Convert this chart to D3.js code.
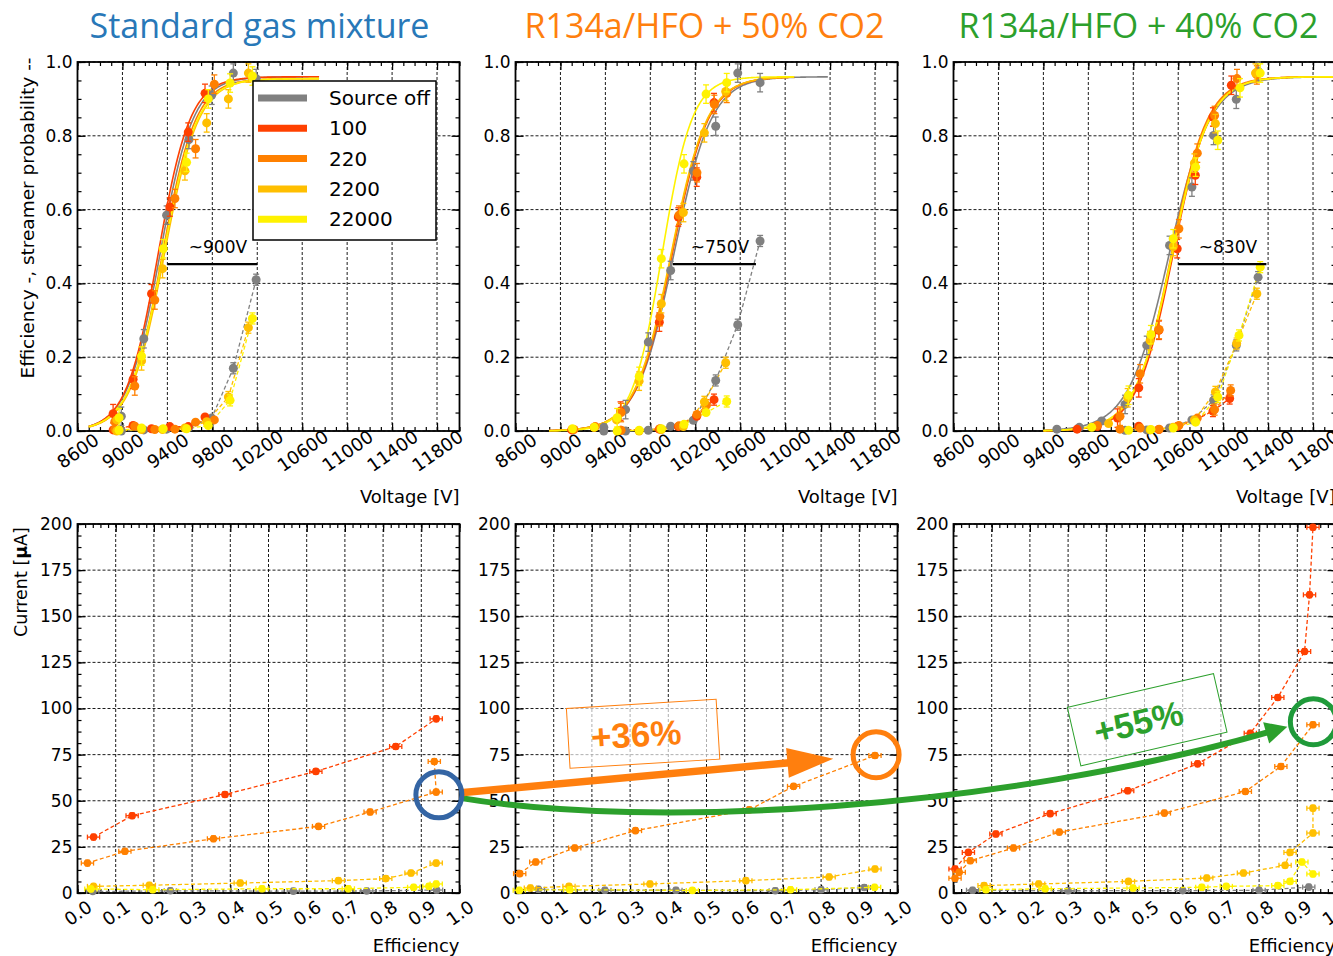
<!DOCTYPE html>
<html>
<head>
<meta charset="utf-8">
<script src="https://cdn.jsdelivr.net/npm/d3@7"></script>
<style>
  body { margin: 0; background: #fff; }
  svg text { font-family: "DejaVu Sans", sans-serif; }
</style>
</head>
<body>
<svg id="chart" width="1333" height="956"></svg>
<script>
// ---- data ----
const series = ['Source off', '100', '220', '2200', '22000']
const colors = ['#808080', '#ff4000', '#ff8000', '#ffbf00', '#fff200']
const titles = ['Standard gas mixture', 'R134a/HFO + 50% CO2', 'R134a/HFO + 40% CO2']
const titleColors = ['#2878b8', '#ff7f0e', '#2ca02c']

const voltTicks = [8600, 9000, 9400, 9800, 10200, 10600, 11000, 11400, 11800]
const effTicks = [0, 0.2, 0.4, 0.6, 0.8, 1.0]
const currTicks = [0, 25, 50, 75, 100, 125, 150, 175, 200]
const effXTicks = [0, 0.1, 0.2, 0.3, 0.4, 0.5, 0.6, 0.7, 0.8, 0.9, 1.0]

// efficiency vs voltage  [V, eff]  (order: Source off, 100, 220, 2200, 22000)
const effStd = [
  [[8990, 0.04], [9190, 0.25], [9393, 0.585], [9592, 0.79], [9794, 0.91], [9987, 0.97], [10190, 0.955]],
  [[8917, 0.047], [9095, 0.14], [9259, 0.372], [9422, 0.607], [9586, 0.81], [9735, 0.915]],
  [[8932, 0.025], [9110, 0.122], [9288, 0.355], [9467, 0.63], [9651, 0.765], [9818, 0.94]],
  [[8950, 0.03], [9170, 0.19], [9357, 0.44], [9556, 0.705], [9750, 0.835], [9943, 0.90], [10121, 0.97]],
  [[8970, 0.036], [9170, 0.203], [9363, 0.494], [9571, 0.728], [9764, 0.90], [9958, 0.943], [10157, 0.962]]
]
const effCO2_50 = [
  [[9386, 0.01], [9580, 0.058], [9782, 0.241], [9981, 0.435], [10183, 0.705], [10382, 0.826], [10578, 0.97], [10777, 0.944]],
  [[9100, 0.003], [9300, 0.01], [9535, 0.054], [9880, 0.295], [10049, 0.58], [10213, 0.688], [10367, 0.89]],
  [[9120, 0.004], [9310, 0.012], [9540, 0.05], [9885, 0.31], [10055, 0.585], [10215, 0.70], [10370, 0.885], [10480, 0.915]],
  [[9500, 0.03], [9700, 0.135], [9898, 0.345], [10094, 0.592], [10281, 0.808], [10471, 0.92]],
  [[9107, 0.006], [9300, 0.01], [9505, 0.036], [9701, 0.148], [9898, 0.467], [10100, 0.724], [10296, 0.913], [10480, 0.944]]
]
const effCO2_40 = [
  [[9520, 0.005], [9720, 0.01], [9919, 0.027], [10127, 0.072], [10320, 0.232], [10523, 0.503], [10722, 0.661], [10915, 0.801], [11117, 0.899], [11311, 0.975]],
  [[9700, 0.005], [9880, 0.012], [10060, 0.035], [10249, 0.117], [10428, 0.273], [10591, 0.494], [10752, 0.693], [10909, 0.851], [11073, 0.937]],
  [[9880, 0.015], [10082, 0.04], [10261, 0.155], [10430, 0.275], [10606, 0.548], [10770, 0.753], [10924, 0.855], [11123, 0.955], [11300, 0.965]],
  [[9980, 0.02], [10150, 0.09], [10350, 0.245], [10556, 0.50], [10744, 0.726], [10931, 0.833], [11288, 0.97]],
  [[9830, 0.01], [10158, 0.097], [10357, 0.261], [10556, 0.521], [10755, 0.715], [10952, 0.788], [11150, 0.93], [11330, 0.97]]
]

// streamer probability vs voltage  [V, prob]
const strStd = [
  [[8990, 0.0], [9190, 0.003], [9393, 0.005], [9592, 0.01], [9794, 0.035], [9987, 0.17], [10190, 0.41]],
  [[8917, 0.003], [9095, 0.015], [9259, 0.006], [9422, 0.012], [9586, 0.012], [9735, 0.038]],
  [[8932, 0.005], [9110, 0.013], [9288, 0.004], [9467, 0.005], [9651, 0.024], [9818, 0.03]],
  [[8950, 0.0], [9170, 0.004], [9357, 0.004], [9556, 0.008], [9750, 0.025], [9943, 0.092], [10121, 0.28]],
  [[8970, 0.002], [9170, 0.008], [9363, 0.006], [9571, 0.006], [9764, 0.015], [9958, 0.083], [10157, 0.305]]
]
const strCO2_50 = [
  [[9386, 0.0], [9580, 0.0], [9782, 0.002], [9981, 0.013], [10183, 0.029], [10382, 0.137], [10578, 0.288], [10777, 0.515]],
  [[9535, 0.002], [9880, 0.005], [10049, 0.012], [10213, 0.04], [10367, 0.085]],
  [[9540, 0.002], [9885, 0.006], [10055, 0.014], [10215, 0.045], [10300, 0.07]],
  [[9700, 0.0], [9898, 0.004], [10094, 0.012], [10281, 0.079], [10471, 0.185]],
  [[9505, 0.0], [9701, 0.002], [9898, 0.006], [10100, 0.018], [10296, 0.05], [10480, 0.08]]
]
const strCO2_40 = [
  [[10127, 0.002], [10320, 0.003], [10523, 0.008], [10722, 0.03], [10915, 0.083], [11117, 0.232], [11311, 0.417]],
  [[10249, 0.013], [10428, 0.004], [10591, 0.012], [10752, 0.03], [10909, 0.054], [11058, 0.088]],
  [[10082, 0.005], [10261, 0.008], [10430, 0.005], [10606, 0.015], [10770, 0.035], [10924, 0.058], [11067, 0.11]],
  [[10350, 0.003], [10556, 0.01], [10744, 0.03], [10931, 0.106], [11120, 0.237], [11300, 0.372]],
  [[10158, 0.002], [10357, 0.004], [10556, 0.008], [10755, 0.024], [10952, 0.092], [11141, 0.259], [11330, 0.444]]
]

// sigmoid fit parameters  [plateau, HV50, slope, Vfrom, Vto]
const fitStd = [
  [0.96, 9335, 0.0068, 8700, 10750], [0.96, 9318, 0.0070, 8700, 10750], [0.955, 9355, 0.0068, 8700, 10750],
  [0.955, 9372, 0.0066, 8700, 10750], [0.955, 9362, 0.0066, 8700, 10750]
]
const fitCO2_50 = [
  [0.96, 10010, 0.0060, 8900, 11380], [0.96, 9995, 0.0062, 8900, 11080], [0.96, 9990, 0.0062, 8900, 11080],
  [0.96, 9985, 0.0062, 8900, 11080], [0.96, 9905, 0.0075, 8900, 11080]
]
const fitCO2_40 = [
  [0.96, 10520, 0.0055, 9400, 12000], [0.96, 10555, 0.0062, 9400, 12000], [0.96, 10540, 0.0062, 9400, 12000],
  [0.96, 10548, 0.0060, 9400, 12000], [0.96, 10545, 0.0060, 9400, 12000]
]

// voltage shift between efficiency and streamer curves
const shiftFrom = [9400, 10000, 10600]
const shiftTo = [10200, 10740, 11385]
const shiftLevel = 0.452
const shiftLabels = ['~900V', '~750V', '~830V']

// current vs efficiency  [eff, current µA]
const curStd = [
  [[0.04, 0.8], [0.243, 1.2], [0.565, 1.0], [0.757, 1.1], [0.94, 1.6]],
  [[0.042, 30.3], [0.143, 41.9], [0.386, 53.4], [0.624, 65.9], [0.833, 79.4], [0.939, 94.4]],
  [[0.026, 16.2], [0.124, 22.6], [0.356, 29.4], [0.631, 36.1], [0.766, 43.9], [0.939, 54.7], [0.934, 71.3]],
  [[0.042, 3.6], [0.188, 4.2], [0.426, 5.4], [0.683, 6.7], [0.807, 7.8], [0.873, 10.8], [0.939, 16.2]],
  [[0.035, 2.2], [0.197, 1.8], [0.483, 2.3], [0.709, 2.3], [0.88, 3.1], [0.92, 3.6], [0.939, 4.9]]
]
const curCO2_50 = [
  [[0.06, 2], [0.234, 1.5], [0.42, 1.5], [0.68, 1.2], [0.8, 1.8], [0.913, 3]],
  [],
  [[0.011, 10.5], [0.053, 16.8], [0.155, 24.4], [0.314, 33.8], [0.612, 45.1], [0.728, 57.8], [0.941, 74.5]],
  [[0.039, 2.7], [0.14, 3.6], [0.352, 4.9], [0.603, 6.7], [0.821, 8.7], [0.941, 13.0]],
  [[0.01, 1.5], [0.142, 1.8], [0.463, 1.4], [0.72, 1.8], [0.94, 3.1]]
]
const curCO2_40 = [
  [[0.05, 1.5], [0.3, 1.2], [0.6, 1.3], [0.8, 1.5], [0.93, 3.2]],
  [[0.004, 13], [0.039, 22], [0.111, 32], [0.253, 43], [0.456, 55.4], [0.639, 70], [0.777, 86.6], [0.849, 106], [0.919, 130.9], [0.932, 161.6], [0.941, 198.2]],
  [[0.004, 8], [0.015, 11.2], [0.044, 17.5], [0.157, 24.4], [0.277, 33], [0.552, 43.3], [0.764, 55], [0.857, 68.6], [0.941, 91.2]],
  [[0.08, 4], [0.223, 4.9], [0.458, 6.3], [0.663, 8.1], [0.759, 10.8], [0.868, 15], [0.881, 22], [0.941, 32.5], [0.941, 46]],
  [[0.085, 1.8], [0.24, 2.3], [0.47, 2.7], [0.65, 3.1], [0.714, 3.6], [0.849, 4], [0.881, 6.3], [0.912, 16.8], [0.941, 10.3]]
]

// highlighted working points in the current plots  [eff, current]
const wpStd = [0.946, 53.2]
const wpCO2_50 = [0.944, 74.9]
const wpCO2_40 = [0.942, 92.8]
const gainLabels = ['+36%', '+55%']
const gainBoxAt = [[0.334, 86.3], [0.507, 93.9]]

// ---- layout ----
const W = 382, H = 369
const panelX = [77.5, 515.5, 953.5]
const topY = 62, botY = 524
const font = '"DejaVu Sans", sans-serif'

const svg = d3.select('#chart')
const xV = d3.scaleLinear().domain([8600, 12000]).range([0, W])
const yE = d3.scaleLinear().domain([0, 1]).range([H, 0])
const xF = d3.scaleLinear().domain([0, 1]).range([0, W])
const yI = d3.scaleLinear().domain([0, 200]).range([H, 0])

const minorV = d3.range(8600, 12001, 100)
const minorE = d3.range(0, 1.0001, 0.05)
const minorF = d3.range(0, 1.0001, 0.02)
const minorI = d3.range(0, 200.01, 6.25)

function addAxes (g, x, y, xMajor, xMinor, yMajor, yMinor, xFmt, yFmt) {
  const grid = g.append('g').attr('stroke', '#000').attr('stroke-width', 0.9).attr('stroke-dasharray', '3,2')
  grid.selectAll('.gx').data(xMajor).enter().append('line')
    .attr('x1', d => x(d)).attr('x2', d => x(d)).attr('y1', 0).attr('y2', H)
  grid.selectAll('.gy').data(yMajor).enter().append('line')
    .attr('y1', d => y(d)).attr('y2', d => y(d)).attr('x1', 0).attr('x2', W)

  const ax = (axis, tr) => {
    const a = g.append('g').attr('transform', tr || null).call(axis)
    a.select('.domain').remove()
    a.selectAll('line').attr('stroke-width', 1.2)
    a.attr('font-size', 17).attr('font-family', font)
    return a
  }
  ax(d3.axisLeft(y).tickValues(yMinor).tickSize(-4).tickFormat(''))
  ax(d3.axisLeft(y).tickValues(yMajor).tickSize(-8).tickPadding(5).tickFormat(yFmt))
  ax(d3.axisRight(y).tickValues(yMinor).tickSize(-4).tickFormat(''), `translate(${W},0)`)
  ax(d3.axisRight(y).tickValues(yMajor).tickSize(-8).tickFormat(''), `translate(${W},0)`)
  ax(d3.axisTop(x).tickValues(xMinor).tickSize(-4).tickFormat(''))
  ax(d3.axisTop(x).tickValues(xMajor).tickSize(-8).tickFormat(''))
  ax(d3.axisBottom(x).tickValues(xMinor).tickSize(-4).tickFormat(''), `translate(0,${H})`)
  const b = ax(d3.axisBottom(x).tickValues(xMajor).tickSize(-8).tickFormat(xFmt), `translate(0,${H})`)
  b.attr('font-size', 18)
  b.selectAll('text')
    .attr('y', null).attr('dy', '0.35em')
    .attr('text-anchor', 'middle')
    .attr('transform', 'translate(0,20) rotate(-35)')

  g.append('rect').attr('width', W).attr('height', H)
    .attr('fill', 'none').attr('stroke', '#000').attr('stroke-width', 1.8)
}

function errorBars (g, pts, x, y, dx, dy, color, capW) {
  pts.forEach(p => {
    const cx = x(p[0]), cy = y(p[1])
    const y0 = y(Math.max(0, p[1] - dy)), y1 = y(p[1] + dy)
    g.append('line').attr('x1', cx).attr('x2', cx).attr('y1', y0).attr('y2', y1)
      .attr('stroke', color).attr('stroke-width', 1.3)
    g.append('line').attr('x1', cx - capW).attr('x2', cx + capW).attr('y1', y1).attr('y2', y1)
      .attr('stroke', color).attr('stroke-width', 1.3)
    g.append('line').attr('x1', cx - capW).attr('x2', cx + capW).attr('y1', y0).attr('y2', y0)
      .attr('stroke', color).attr('stroke-width', 1.3)
    if (dx) {
      const x0 = x(p[0] - dx), x1 = x(p[0] + dx)
      g.append('line').attr('x1', x0).attr('x2', x1).attr('y1', cy).attr('y2', cy)
        .attr('stroke', color).attr('stroke-width', 1.3)
      g.append('line').attr('x1', x0).attr('x2', x0).attr('y1', cy - capW).attr('y2', cy + capW)
        .attr('stroke', color).attr('stroke-width', 1.3)
      g.append('line').attr('x1', x1).attr('x2', x1).attr('y1', cy - capW).attr('y2', cy + capW)
        .attr('stroke', color).attr('stroke-width', 1.3)
    }
  })
}

const topData = [
  [effStd, strStd, fitStd],
  [effCO2_50, strCO2_50, fitCO2_50],
  [effCO2_40, strCO2_40, fitCO2_40]
]
const botData = [curStd, curCO2_50, curCO2_40]

// ---- top row: efficiency / streamer probability ----
topData.forEach(([eff, str, fit], p) => {
  const g = svg.append('g').attr('transform', `translate(${panelX[p]},${topY})`)
  addAxes(g, xV, yE, voltTicks, minorV, effTicks, minorE, d3.format('d'), d3.format('.1f'))

  const line = d3.line().x(d => xV(d[0])).y(d => yE(d[1]))
  series.forEach((s, i) => {
    const [pl, hv, k, v0, v1] = fit[i]
    const curve = d3.range(v0, v1 + 1, 10).map(v => [v, pl / (1 + Math.exp(-k * (v - hv)))])
    g.append('path').datum(curve).attr('d', line)
      .attr('fill', 'none').attr('stroke', colors[i]).attr('stroke-width', 1.6)
    g.append('path').datum(str[i]).attr('d', line)
      .attr('fill', 'none').attr('stroke', colors[i]).attr('stroke-width', 1.3).attr('stroke-dasharray', '4,2.5')
  })
  series.forEach((s, i) => {
    errorBars(g, eff[i].filter(d => d[1] > 0.03), xV, yE, 0, 0.025, colors[i], 3)
    errorBars(g, str[i].filter(d => d[1] > 0.05), xV, yE, 0, 0.015, colors[i], 3)
    g.selectAll(null).data(eff[i].concat(str[i])).enter().append('circle')
      .attr('cx', d => xV(d[0])).attr('cy', d => yE(d[1])).attr('r', 4.5)
      .attr('fill', colors[i])
  })

  // voltage shift bracket
  g.append('line').attr('x1', xV(shiftFrom[p])).attr('x2', xV(shiftTo[p]))
    .attr('y1', yE(shiftLevel)).attr('y2', yE(shiftLevel))
    .attr('stroke', '#000').attr('stroke-width', 2.2)
  g.append('text').attr('x', xV((shiftFrom[p] + shiftTo[p]) / 2 + 50)).attr('y', yE(shiftLevel) - 11)
    .attr('text-anchor', 'middle').attr('font-size', 17).text(shiftLabels[p])

  // title
  svg.append('text').attr('x', panelX[p] + W / 2 - [9, 2, 6][p]).attr('y', 38)
    .attr('text-anchor', 'middle').attr('font-size', 34).attr('fill', titleColors[p])
    .style('font-family', '"Open Sans", sans-serif').text(titles[p])

  svg.append('text').attr('x', panelX[p] + W).attr('y', topY + H + 72)
    .attr('text-anchor', 'end').attr('font-size', 18).text('Voltage [V]')

  if (p === 0) {
    const lg = g.append('g').attr('transform', 'translate(175.5,19)')
    lg.append('rect').attr('width', 183).attr('height', 159)
      .attr('fill', '#fff').attr('stroke', '#000').attr('stroke-width', 1.5)
    series.forEach((s, i) => {
      const yy = 17 + i * 30.3
      lg.append('line').attr('x1', 5).attr('x2', 54).attr('y1', yy).attr('y2', yy)
        .attr('stroke', colors[i]).attr('stroke-width', 7)
      lg.append('text').attr('x', 76).attr('y', yy).attr('dy', '0.35em')
        .attr('font-size', 20).text(s)
    })
  }
})

// ---- bottom row: current vs efficiency ----
botData.forEach((cur, p) => {
  const g = svg.append('g').attr('transform', `translate(${panelX[p]},${botY})`)
  addAxes(g, xF, yI, effXTicks, minorF, currTicks, minorI, d3.format('.1f'), d3.format('d'))
  const line = d3.line().x(d => xF(d[0])).y(d => yI(d[1]))
  series.forEach((s, i) => {
    if (!cur[i].length) return
    g.append('path').datum(cur[i]).attr('d', line)
      .attr('fill', 'none').attr('stroke', colors[i]).attr('stroke-width', 1.3).attr('stroke-dasharray', '4,2.5')
    errorBars(g, cur[i], xF, yI, 0.016, 1.5, colors[i], 2.5)
    g.selectAll(null).data(cur[i]).enter().append('circle')
      .attr('cx', d => xF(d[0])).attr('cy', d => yI(d[1])).attr('r', 3.8)
      .attr('fill', colors[i])
  })
  svg.append('text').attr('x', panelX[p] + W).attr('y', botY + H + 59)
    .attr('text-anchor', 'end').attr('font-size', 18).text('Efficiency')
})

// y labels
svg.append('text').attr('transform', 'translate(34,218) rotate(-90)')
  .attr('text-anchor', 'middle').attr('font-size', 18.5).text('Efficiency -, streamer probability --')
const cl = svg.append('text').attr('transform', 'translate(27,582) rotate(-90)')
  .attr('text-anchor', 'middle').attr('font-size', 17.5)
cl.append('tspan').text('Current [')
cl.append('tspan').attr('font-weight', 'bold').text('\u03bc')
cl.append('tspan').text('A]')

// ---- annotations ----
const pos = (p, d) => [panelX[p] + xF(d[0]), botY + yI(d[1])]
const cBlue = pos(0, wpStd), cOrange = pos(1, wpCO2_50), cGreen = pos(2, wpCO2_40)

// green curved arrow
const gs = [cBlue[0] + 21, cBlue[1] + 3], ge = [cGreen[0] - 26, cGreen[1] + 5]
const gp = d3.path()
gp.moveTo(gs[0], gs[1])
gp.bezierCurveTo(gs[0] + 190, gs[1] + 32, ge[0] - 287, ge[1] + 83, ge[0] - 14, ge[1] + 4)
svg.append('path').attr('d', gp.toString()).attr('fill', 'none')
  .attr('stroke', '#2ca02c').attr('stroke-width', 6)
{
  const ang = Math.atan2(-4, 14)
  const L = 22, hw = 11
  const bx = ge[0] - L * Math.cos(ang), by = ge[1] - L * Math.sin(ang)
  svg.append('path').attr('fill', '#2ca02c')
    .attr('d', `M${ge[0]},${ge[1]}L${bx - hw * Math.sin(ang)},${by + hw * Math.cos(ang)}L${bx + hw * Math.sin(ang)},${by - hw * Math.cos(ang)}Z`)
}

// orange straight arrow
{
  const dx = cOrange[0] - cBlue[0], dy = cOrange[1] - cBlue[1]
  const len = Math.hypot(dx, dy), ux = dx / len, uy = dy / len
  const s = [cBlue[0] + ux * 22, cBlue[1] + uy * 22]
  const t = [cOrange[0] - ux * 43, cOrange[1] - uy * 43]
  const L = 46, hw = 15
  const b = [t[0] - ux * L, t[1] - uy * L]
  svg.append('line').attr('x1', s[0]).attr('y1', s[1]).attr('x2', b[0] + ux * 2).attr('y2', b[1] + uy * 2)
    .attr('stroke', '#ff7f0e').attr('stroke-width', 7.5)
  svg.append('path').attr('fill', '#ff7f0e')
    .attr('d', `M${t[0]},${t[1]}L${b[0] - uy * hw},${b[1] + ux * hw}L${b[0] + uy * hw},${b[1] - ux * hw}Z`)
}

// circles
;[[cBlue, '#3465a4'], [cOrange, '#ff7f0e'], [cGreen, '#1f9a3a']].forEach(([c, col]) => {
  svg.append('circle').attr('cx', c[0]).attr('cy', c[1]).attr('r', 23)
    .attr('fill', 'none').attr('stroke', col).attr('stroke-width', 5)
})

// gain boxes
;[[1, '#ff7f0e', -3.5, -7], [2, '#2ca02c', -13, -9]].forEach(([p, col, rot, tdx], k) => {
  const c = [panelX[p] + xF(gainBoxAt[k][0]), botY + yI(gainBoxAt[k][1])]
  const b = svg.append('g').attr('transform', `translate(${c[0]},${c[1]}) rotate(${rot})`)
  b.append('rect').attr('x', -75).attr('y', -30).attr('width', 150).attr('height', 60)
    .attr('fill', '#fff').attr('fill-opacity', 0.65).attr('stroke', col).attr('stroke-width', 1)
  b.append('text').attr('x', tdx).attr('y', 0).attr('dy', '0.36em').attr('text-anchor', 'middle')
    .attr('font-size', 35).attr('font-weight', 'bold').attr('fill', col)
    .style('font-family', '"Liberation Sans", Arial, sans-serif').text(gainLabels[k])
})
</script>
</body>
</html>
